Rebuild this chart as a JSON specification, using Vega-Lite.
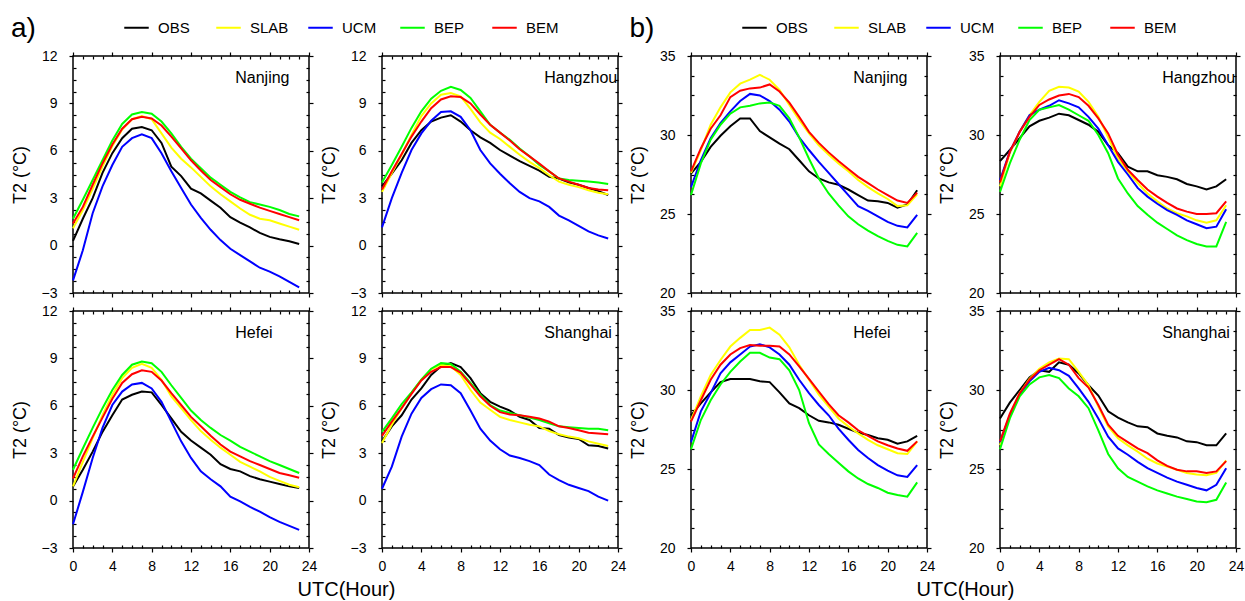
{
"$schema":"https://vega.github.io/schema/vega-lite/v6.json",
"padding":{"left":10,"top":13,"right":0,"bottom":0},
"background":"white",
"datasets":{
"a":[
{"c":"Nanjing","m":"OBS","h":0,"t":0.3},{"c":"Nanjing","m":"OBS","h":1,"t":1.7},{"c":"Nanjing","m":"OBS","h":2,"t":3.0},{"c":"Nanjing","m":"OBS","h":3,"t":4.6},{"c":"Nanjing","m":"OBS","h":4,"t":5.85},{"c":"Nanjing","m":"OBS","h":5,"t":6.8},{"c":"Nanjing","m":"OBS","h":6,"t":7.4},{"c":"Nanjing","m":"OBS","h":7,"t":7.5},{"c":"Nanjing","m":"OBS","h":8,"t":7.3},{"c":"Nanjing","m":"OBS","h":9,"t":6.5},{"c":"Nanjing","m":"OBS","h":10,"t":5.0},{"c":"Nanjing","m":"OBS","h":11,"t":4.4},{"c":"Nanjing","m":"OBS","h":12,"t":3.6},{"c":"Nanjing","m":"OBS","h":13,"t":3.3},{"c":"Nanjing","m":"OBS","h":14,"t":2.85},{"c":"Nanjing","m":"OBS","h":15,"t":2.4},{"c":"Nanjing","m":"OBS","h":16,"t":1.8},{"c":"Nanjing","m":"OBS","h":17,"t":1.45},{"c":"Nanjing","m":"OBS","h":18,"t":1.15},{"c":"Nanjing","m":"OBS","h":19,"t":0.8},{"c":"Nanjing","m":"OBS","h":20,"t":0.55},{"c":"Nanjing","m":"OBS","h":21,"t":0.4},{"c":"Nanjing","m":"OBS","h":22,"t":0.27},{"c":"Nanjing","m":"OBS","h":23,"t":0.1},
{"c":"Nanjing","m":"SLAB","h":0,"t":1.1},{"c":"Nanjing","m":"SLAB","h":1,"t":2.25},{"c":"Nanjing","m":"SLAB","h":2,"t":3.6},{"c":"Nanjing","m":"SLAB","h":3,"t":5.0},{"c":"Nanjing","m":"SLAB","h":4,"t":6.3},{"c":"Nanjing","m":"SLAB","h":5,"t":7.35},{"c":"Nanjing","m":"SLAB","h":6,"t":8.0},{"c":"Nanjing","m":"SLAB","h":7,"t":8.2},{"c":"Nanjing","m":"SLAB","h":8,"t":8.0},{"c":"Nanjing","m":"SLAB","h":9,"t":7.1},{"c":"Nanjing","m":"SLAB","h":10,"t":6.2},{"c":"Nanjing","m":"SLAB","h":11,"t":5.5},{"c":"Nanjing","m":"SLAB","h":12,"t":4.95},{"c":"Nanjing","m":"SLAB","h":13,"t":4.35},{"c":"Nanjing","m":"SLAB","h":14,"t":3.75},{"c":"Nanjing","m":"SLAB","h":15,"t":3.25},{"c":"Nanjing","m":"SLAB","h":16,"t":2.8},{"c":"Nanjing","m":"SLAB","h":17,"t":2.35},{"c":"Nanjing","m":"SLAB","h":18,"t":1.95},{"c":"Nanjing","m":"SLAB","h":19,"t":1.7},{"c":"Nanjing","m":"SLAB","h":20,"t":1.6},{"c":"Nanjing","m":"SLAB","h":21,"t":1.4},{"c":"Nanjing","m":"SLAB","h":22,"t":1.2},{"c":"Nanjing","m":"SLAB","h":23,"t":1.0},
{"c":"Nanjing","m":"UCM","h":0,"t":-2.2},{"c":"Nanjing","m":"UCM","h":1,"t":-0.3},{"c":"Nanjing","m":"UCM","h":2,"t":2.05},{"c":"Nanjing","m":"UCM","h":3,"t":3.75},{"c":"Nanjing","m":"UCM","h":4,"t":5.1},{"c":"Nanjing","m":"UCM","h":5,"t":6.25},{"c":"Nanjing","m":"UCM","h":6,"t":6.8},{"c":"Nanjing","m":"UCM","h":7,"t":7.05},{"c":"Nanjing","m":"UCM","h":8,"t":6.8},{"c":"Nanjing","m":"UCM","h":9,"t":5.85},{"c":"Nanjing","m":"UCM","h":10,"t":4.7},{"c":"Nanjing","m":"UCM","h":11,"t":3.65},{"c":"Nanjing","m":"UCM","h":12,"t":2.6},{"c":"Nanjing","m":"UCM","h":13,"t":1.75},{"c":"Nanjing","m":"UCM","h":14,"t":1.0},{"c":"Nanjing","m":"UCM","h":15,"t":0.35},{"c":"Nanjing","m":"UCM","h":16,"t":-0.2},{"c":"Nanjing","m":"UCM","h":17,"t":-0.6},{"c":"Nanjing","m":"UCM","h":18,"t":-1.0},{"c":"Nanjing","m":"UCM","h":19,"t":-1.4},{"c":"Nanjing","m":"UCM","h":20,"t":-1.65},{"c":"Nanjing","m":"UCM","h":21,"t":-1.95},{"c":"Nanjing","m":"UCM","h":22,"t":-2.3},{"c":"Nanjing","m":"UCM","h":23,"t":-2.65},
{"c":"Nanjing","m":"BEP","h":0,"t":1.7},{"c":"Nanjing","m":"BEP","h":1,"t":2.9},{"c":"Nanjing","m":"BEP","h":2,"t":4.15},{"c":"Nanjing","m":"BEP","h":3,"t":5.4},{"c":"Nanjing","m":"BEP","h":4,"t":6.65},{"c":"Nanjing","m":"BEP","h":5,"t":7.7},{"c":"Nanjing","m":"BEP","h":6,"t":8.3},{"c":"Nanjing","m":"BEP","h":7,"t":8.45},{"c":"Nanjing","m":"BEP","h":8,"t":8.35},{"c":"Nanjing","m":"BEP","h":9,"t":7.85},{"c":"Nanjing","m":"BEP","h":10,"t":7.1},{"c":"Nanjing","m":"BEP","h":11,"t":6.25},{"c":"Nanjing","m":"BEP","h":12,"t":5.5},{"c":"Nanjing","m":"BEP","h":13,"t":4.9},{"c":"Nanjing","m":"BEP","h":14,"t":4.3},{"c":"Nanjing","m":"BEP","h":15,"t":3.85},{"c":"Nanjing","m":"BEP","h":16,"t":3.4},{"c":"Nanjing","m":"BEP","h":17,"t":3.05},{"c":"Nanjing","m":"BEP","h":18,"t":2.75},{"c":"Nanjing","m":"BEP","h":19,"t":2.6},{"c":"Nanjing","m":"BEP","h":20,"t":2.45},{"c":"Nanjing","m":"BEP","h":21,"t":2.25},{"c":"Nanjing","m":"BEP","h":22,"t":2.0},{"c":"Nanjing","m":"BEP","h":23,"t":1.85},
{"c":"Nanjing","m":"BEM","h":0,"t":1.4},{"c":"Nanjing","m":"BEM","h":1,"t":2.45},{"c":"Nanjing","m":"BEM","h":2,"t":3.85},{"c":"Nanjing","m":"BEM","h":3,"t":5.2},{"c":"Nanjing","m":"BEM","h":4,"t":6.4},{"c":"Nanjing","m":"BEM","h":5,"t":7.4},{"c":"Nanjing","m":"BEM","h":6,"t":8.0},{"c":"Nanjing","m":"BEM","h":7,"t":8.15},{"c":"Nanjing","m":"BEM","h":8,"t":8.05},{"c":"Nanjing","m":"BEM","h":9,"t":7.6},{"c":"Nanjing","m":"BEM","h":10,"t":6.9},{"c":"Nanjing","m":"BEM","h":11,"t":6.15},{"c":"Nanjing","m":"BEM","h":12,"t":5.4},{"c":"Nanjing","m":"BEM","h":13,"t":4.75},{"c":"Nanjing","m":"BEM","h":14,"t":4.15},{"c":"Nanjing","m":"BEM","h":15,"t":3.7},{"c":"Nanjing","m":"BEM","h":16,"t":3.25},{"c":"Nanjing","m":"BEM","h":17,"t":2.9},{"c":"Nanjing","m":"BEM","h":18,"t":2.65},{"c":"Nanjing","m":"BEM","h":19,"t":2.4},{"c":"Nanjing","m":"BEM","h":20,"t":2.2},{"c":"Nanjing","m":"BEM","h":21,"t":2.0},{"c":"Nanjing","m":"BEM","h":22,"t":1.8},{"c":"Nanjing","m":"BEM","h":23,"t":1.6},
{"c":"Hangzhou","m":"OBS","h":0,"t":3.75},{"c":"Hangzhou","m":"OBS","h":1,"t":4.55},{"c":"Hangzhou","m":"OBS","h":2,"t":5.4},{"c":"Hangzhou","m":"OBS","h":3,"t":6.5},{"c":"Hangzhou","m":"OBS","h":4,"t":7.3},{"c":"Hangzhou","m":"OBS","h":5,"t":7.85},{"c":"Hangzhou","m":"OBS","h":6,"t":8.1},{"c":"Hangzhou","m":"OBS","h":7,"t":8.25},{"c":"Hangzhou","m":"OBS","h":8,"t":7.85},{"c":"Hangzhou","m":"OBS","h":9,"t":7.3},{"c":"Hangzhou","m":"OBS","h":10,"t":6.85},{"c":"Hangzhou","m":"OBS","h":11,"t":6.5},{"c":"Hangzhou","m":"OBS","h":12,"t":6.05},{"c":"Hangzhou","m":"OBS","h":13,"t":5.7},{"c":"Hangzhou","m":"OBS","h":14,"t":5.35},{"c":"Hangzhou","m":"OBS","h":15,"t":5.05},{"c":"Hangzhou","m":"OBS","h":16,"t":4.75},{"c":"Hangzhou","m":"OBS","h":17,"t":4.35},{"c":"Hangzhou","m":"OBS","h":18,"t":4.25},{"c":"Hangzhou","m":"OBS","h":19,"t":4.0},{"c":"Hangzhou","m":"OBS","h":20,"t":3.85},{"c":"Hangzhou","m":"OBS","h":21,"t":3.65},{"c":"Hangzhou","m":"OBS","h":22,"t":3.45},{"c":"Hangzhou","m":"OBS","h":23,"t":3.2},
{"c":"Hangzhou","m":"SLAB","h":0,"t":3.4},{"c":"Hangzhou","m":"SLAB","h":1,"t":4.6},{"c":"Hangzhou","m":"SLAB","h":2,"t":5.75},{"c":"Hangzhou","m":"SLAB","h":3,"t":7.0},{"c":"Hangzhou","m":"SLAB","h":4,"t":8.2},{"c":"Hangzhou","m":"SLAB","h":5,"t":9.0},{"c":"Hangzhou","m":"SLAB","h":6,"t":9.55},{"c":"Hangzhou","m":"SLAB","h":7,"t":9.65},{"c":"Hangzhou","m":"SLAB","h":8,"t":9.45},{"c":"Hangzhou","m":"SLAB","h":9,"t":8.65},{"c":"Hangzhou","m":"SLAB","h":10,"t":7.8},{"c":"Hangzhou","m":"SLAB","h":11,"t":7.15},{"c":"Hangzhou","m":"SLAB","h":12,"t":6.75},{"c":"Hangzhou","m":"SLAB","h":13,"t":6.25},{"c":"Hangzhou","m":"SLAB","h":14,"t":5.75},{"c":"Hangzhou","m":"SLAB","h":15,"t":5.3},{"c":"Hangzhou","m":"SLAB","h":16,"t":4.9},{"c":"Hangzhou","m":"SLAB","h":17,"t":4.45},{"c":"Hangzhou","m":"SLAB","h":18,"t":4.05},{"c":"Hangzhou","m":"SLAB","h":19,"t":3.85},{"c":"Hangzhou","m":"SLAB","h":20,"t":3.7},{"c":"Hangzhou","m":"SLAB","h":21,"t":3.5},{"c":"Hangzhou","m":"SLAB","h":22,"t":3.35},{"c":"Hangzhou","m":"SLAB","h":23,"t":3.25},
{"c":"Hangzhou","m":"UCM","h":0,"t":1.15},{"c":"Hangzhou","m":"UCM","h":1,"t":3.0},{"c":"Hangzhou","m":"UCM","h":2,"t":4.6},{"c":"Hangzhou","m":"UCM","h":3,"t":6.05},{"c":"Hangzhou","m":"UCM","h":4,"t":7.1},{"c":"Hangzhou","m":"UCM","h":5,"t":7.9},{"c":"Hangzhou","m":"UCM","h":6,"t":8.45},{"c":"Hangzhou","m":"UCM","h":7,"t":8.5},{"c":"Hangzhou","m":"UCM","h":8,"t":8.15},{"c":"Hangzhou","m":"UCM","h":9,"t":7.3},{"c":"Hangzhou","m":"UCM","h":10,"t":6.05},{"c":"Hangzhou","m":"UCM","h":11,"t":5.2},{"c":"Hangzhou","m":"UCM","h":12,"t":4.55},{"c":"Hangzhou","m":"UCM","h":13,"t":3.95},{"c":"Hangzhou","m":"UCM","h":14,"t":3.4},{"c":"Hangzhou","m":"UCM","h":15,"t":3.0},{"c":"Hangzhou","m":"UCM","h":16,"t":2.8},{"c":"Hangzhou","m":"UCM","h":17,"t":2.45},{"c":"Hangzhou","m":"UCM","h":18,"t":1.9},{"c":"Hangzhou","m":"UCM","h":19,"t":1.6},{"c":"Hangzhou","m":"UCM","h":20,"t":1.25},{"c":"Hangzhou","m":"UCM","h":21,"t":0.9},{"c":"Hangzhou","m":"UCM","h":22,"t":0.65},{"c":"Hangzhou","m":"UCM","h":23,"t":0.45},
{"c":"Hangzhou","m":"BEP","h":0,"t":4.0},{"c":"Hangzhou","m":"BEP","h":1,"t":5.1},{"c":"Hangzhou","m":"BEP","h":2,"t":6.25},{"c":"Hangzhou","m":"BEP","h":3,"t":7.45},{"c":"Hangzhou","m":"BEP","h":4,"t":8.5},{"c":"Hangzhou","m":"BEP","h":5,"t":9.3},{"c":"Hangzhou","m":"BEP","h":6,"t":9.8},{"c":"Hangzhou","m":"BEP","h":7,"t":10.05},{"c":"Hangzhou","m":"BEP","h":8,"t":9.85},{"c":"Hangzhou","m":"BEP","h":9,"t":9.35},{"c":"Hangzhou","m":"BEP","h":10,"t":8.5},{"c":"Hangzhou","m":"BEP","h":11,"t":7.65},{"c":"Hangzhou","m":"BEP","h":12,"t":7.15},{"c":"Hangzhou","m":"BEP","h":13,"t":6.7},{"c":"Hangzhou","m":"BEP","h":14,"t":6.15},{"c":"Hangzhou","m":"BEP","h":15,"t":5.65},{"c":"Hangzhou","m":"BEP","h":16,"t":5.1},{"c":"Hangzhou","m":"BEP","h":17,"t":4.7},{"c":"Hangzhou","m":"BEP","h":18,"t":4.25},{"c":"Hangzhou","m":"BEP","h":19,"t":4.15},{"c":"Hangzhou","m":"BEP","h":20,"t":4.1},{"c":"Hangzhou","m":"BEP","h":21,"t":4.05},{"c":"Hangzhou","m":"BEP","h":22,"t":4.0},{"c":"Hangzhou","m":"BEP","h":23,"t":3.9},
{"c":"Hangzhou","m":"BEM","h":0,"t":3.55},{"c":"Hangzhou","m":"BEM","h":1,"t":4.7},{"c":"Hangzhou","m":"BEM","h":2,"t":5.8},{"c":"Hangzhou","m":"BEM","h":3,"t":6.9},{"c":"Hangzhou","m":"BEM","h":4,"t":7.85},{"c":"Hangzhou","m":"BEM","h":5,"t":8.7},{"c":"Hangzhou","m":"BEM","h":6,"t":9.25},{"c":"Hangzhou","m":"BEM","h":7,"t":9.45},{"c":"Hangzhou","m":"BEM","h":8,"t":9.4},{"c":"Hangzhou","m":"BEM","h":9,"t":9.0},{"c":"Hangzhou","m":"BEM","h":10,"t":8.3},{"c":"Hangzhou","m":"BEM","h":11,"t":7.65},{"c":"Hangzhou","m":"BEM","h":12,"t":7.15},{"c":"Hangzhou","m":"BEM","h":13,"t":6.65},{"c":"Hangzhou","m":"BEM","h":14,"t":6.1},{"c":"Hangzhou","m":"BEM","h":15,"t":5.65},{"c":"Hangzhou","m":"BEM","h":16,"t":5.2},{"c":"Hangzhou","m":"BEM","h":17,"t":4.7},{"c":"Hangzhou","m":"BEM","h":18,"t":4.25},{"c":"Hangzhou","m":"BEM","h":19,"t":4.05},{"c":"Hangzhou","m":"BEM","h":20,"t":3.85},{"c":"Hangzhou","m":"BEM","h":21,"t":3.65},{"c":"Hangzhou","m":"BEM","h":22,"t":3.55},{"c":"Hangzhou","m":"BEM","h":23,"t":3.5},
{"c":"Hefei","m":"OBS","h":0,"t":0.9},{"c":"Hefei","m":"OBS","h":1,"t":1.95},{"c":"Hefei","m":"OBS","h":2,"t":3.1},{"c":"Hefei","m":"OBS","h":3,"t":4.35},{"c":"Hefei","m":"OBS","h":4,"t":5.4},{"c":"Hefei","m":"OBS","h":5,"t":6.4},{"c":"Hefei","m":"OBS","h":6,"t":6.7},{"c":"Hefei","m":"OBS","h":7,"t":6.9},{"c":"Hefei","m":"OBS","h":8,"t":6.85},{"c":"Hefei","m":"OBS","h":9,"t":6.05},{"c":"Hefei","m":"OBS","h":10,"t":5.2},{"c":"Hefei","m":"OBS","h":11,"t":4.35},{"c":"Hefei","m":"OBS","h":12,"t":3.8},{"c":"Hefei","m":"OBS","h":13,"t":3.35},{"c":"Hefei","m":"OBS","h":14,"t":2.9},{"c":"Hefei","m":"OBS","h":15,"t":2.3},{"c":"Hefei","m":"OBS","h":16,"t":2.0},{"c":"Hefei","m":"OBS","h":17,"t":1.85},{"c":"Hefei","m":"OBS","h":18,"t":1.55},{"c":"Hefei","m":"OBS","h":19,"t":1.35},{"c":"Hefei","m":"OBS","h":20,"t":1.2},{"c":"Hefei","m":"OBS","h":21,"t":1.05},{"c":"Hefei","m":"OBS","h":22,"t":0.9},{"c":"Hefei","m":"OBS","h":23,"t":0.8},
{"c":"Hefei","m":"SLAB","h":0,"t":0.9},{"c":"Hefei","m":"SLAB","h":1,"t":2.45},{"c":"Hefei","m":"SLAB","h":2,"t":3.95},{"c":"Hefei","m":"SLAB","h":3,"t":5.4},{"c":"Hefei","m":"SLAB","h":4,"t":6.7},{"c":"Hefei","m":"SLAB","h":5,"t":7.75},{"c":"Hefei","m":"SLAB","h":6,"t":8.4},{"c":"Hefei","m":"SLAB","h":7,"t":8.65},{"c":"Hefei","m":"SLAB","h":8,"t":8.4},{"c":"Hefei","m":"SLAB","h":9,"t":7.65},{"c":"Hefei","m":"SLAB","h":10,"t":6.6},{"c":"Hefei","m":"SLAB","h":11,"t":5.85},{"c":"Hefei","m":"SLAB","h":12,"t":5.1},{"c":"Hefei","m":"SLAB","h":13,"t":4.4},{"c":"Hefei","m":"SLAB","h":14,"t":3.85},{"c":"Hefei","m":"SLAB","h":15,"t":3.35},{"c":"Hefei","m":"SLAB","h":16,"t":2.9},{"c":"Hefei","m":"SLAB","h":17,"t":2.45},{"c":"Hefei","m":"SLAB","h":18,"t":2.15},{"c":"Hefei","m":"SLAB","h":19,"t":1.85},{"c":"Hefei","m":"SLAB","h":20,"t":1.5},{"c":"Hefei","m":"SLAB","h":21,"t":1.25},{"c":"Hefei","m":"SLAB","h":22,"t":1.0},{"c":"Hefei","m":"SLAB","h":23,"t":0.85},
{"c":"Hefei","m":"UCM","h":0,"t":-1.5},{"c":"Hefei","m":"UCM","h":1,"t":0.55},{"c":"Hefei","m":"UCM","h":2,"t":2.7},{"c":"Hefei","m":"UCM","h":3,"t":4.6},{"c":"Hefei","m":"UCM","h":4,"t":6.05},{"c":"Hefei","m":"UCM","h":5,"t":6.9},{"c":"Hefei","m":"UCM","h":6,"t":7.35},{"c":"Hefei","m":"UCM","h":7,"t":7.45},{"c":"Hefei","m":"UCM","h":8,"t":7.1},{"c":"Hefei","m":"UCM","h":9,"t":6.25},{"c":"Hefei","m":"UCM","h":10,"t":5.0},{"c":"Hefei","m":"UCM","h":11,"t":3.75},{"c":"Hefei","m":"UCM","h":12,"t":2.7},{"c":"Hefei","m":"UCM","h":13,"t":1.85},{"c":"Hefei","m":"UCM","h":14,"t":1.35},{"c":"Hefei","m":"UCM","h":15,"t":0.9},{"c":"Hefei","m":"UCM","h":16,"t":0.25},{"c":"Hefei","m":"UCM","h":17,"t":-0.05},{"c":"Hefei","m":"UCM","h":18,"t":-0.4},{"c":"Hefei","m":"UCM","h":19,"t":-0.7},{"c":"Hefei","m":"UCM","h":20,"t":-1.05},{"c":"Hefei","m":"UCM","h":21,"t":-1.35},{"c":"Hefei","m":"UCM","h":22,"t":-1.6},{"c":"Hefei","m":"UCM","h":23,"t":-1.85},
{"c":"Hefei","m":"BEP","h":0,"t":1.95},{"c":"Hefei","m":"BEP","h":1,"t":3.3},{"c":"Hefei","m":"BEP","h":2,"t":4.6},{"c":"Hefei","m":"BEP","h":3,"t":5.85},{"c":"Hefei","m":"BEP","h":4,"t":7.0},{"c":"Hefei","m":"BEP","h":5,"t":7.95},{"c":"Hefei","m":"BEP","h":6,"t":8.6},{"c":"Hefei","m":"BEP","h":7,"t":8.8},{"c":"Hefei","m":"BEP","h":8,"t":8.7},{"c":"Hefei","m":"BEP","h":9,"t":8.15},{"c":"Hefei","m":"BEP","h":10,"t":7.3},{"c":"Hefei","m":"BEP","h":11,"t":6.5},{"c":"Hefei","m":"BEP","h":12,"t":5.7},{"c":"Hefei","m":"BEP","h":13,"t":5.1},{"c":"Hefei","m":"BEP","h":14,"t":4.6},{"c":"Hefei","m":"BEP","h":15,"t":4.15},{"c":"Hefei","m":"BEP","h":16,"t":3.8},{"c":"Hefei","m":"BEP","h":17,"t":3.4},{"c":"Hefei","m":"BEP","h":18,"t":3.1},{"c":"Hefei","m":"BEP","h":19,"t":2.8},{"c":"Hefei","m":"BEP","h":20,"t":2.5},{"c":"Hefei","m":"BEP","h":21,"t":2.25},{"c":"Hefei","m":"BEP","h":22,"t":2.0},{"c":"Hefei","m":"BEP","h":23,"t":1.75},
{"c":"Hefei","m":"BEM","h":0,"t":1.4},{"c":"Hefei","m":"BEM","h":1,"t":2.8},{"c":"Hefei","m":"BEM","h":2,"t":4.05},{"c":"Hefei","m":"BEM","h":3,"t":5.25},{"c":"Hefei","m":"BEM","h":4,"t":6.45},{"c":"Hefei","m":"BEM","h":5,"t":7.45},{"c":"Hefei","m":"BEM","h":6,"t":8.0},{"c":"Hefei","m":"BEM","h":7,"t":8.25},{"c":"Hefei","m":"BEM","h":8,"t":8.15},{"c":"Hefei","m":"BEM","h":9,"t":7.6},{"c":"Hefei","m":"BEM","h":10,"t":6.8},{"c":"Hefei","m":"BEM","h":11,"t":6.05},{"c":"Hefei","m":"BEM","h":12,"t":5.3},{"c":"Hefei","m":"BEM","h":13,"t":4.7},{"c":"Hefei","m":"BEM","h":14,"t":4.1},{"c":"Hefei","m":"BEM","h":15,"t":3.55},{"c":"Hefei","m":"BEM","h":16,"t":3.1},{"c":"Hefei","m":"BEM","h":17,"t":2.8},{"c":"Hefei","m":"BEM","h":18,"t":2.5},{"c":"Hefei","m":"BEM","h":19,"t":2.25},{"c":"Hefei","m":"BEM","h":20,"t":2.0},{"c":"Hefei","m":"BEM","h":21,"t":1.75},{"c":"Hefei","m":"BEM","h":22,"t":1.6},{"c":"Hefei","m":"BEM","h":23,"t":1.45},
{"c":"Shanghai","m":"OBS","h":0,"t":3.75},{"c":"Shanghai","m":"OBS","h":1,"t":4.7},{"c":"Shanghai","m":"OBS","h":2,"t":5.4},{"c":"Shanghai","m":"OBS","h":3,"t":6.4},{"c":"Shanghai","m":"OBS","h":4,"t":7.1},{"c":"Shanghai","m":"OBS","h":5,"t":7.95},{"c":"Shanghai","m":"OBS","h":6,"t":8.5},{"c":"Shanghai","m":"OBS","h":7,"t":8.7},{"c":"Shanghai","m":"OBS","h":8,"t":8.45},{"c":"Shanghai","m":"OBS","h":9,"t":7.75},{"c":"Shanghai","m":"OBS","h":10,"t":6.8},{"c":"Shanghai","m":"OBS","h":11,"t":6.25},{"c":"Shanghai","m":"OBS","h":12,"t":5.95},{"c":"Shanghai","m":"OBS","h":13,"t":5.7},{"c":"Shanghai","m":"OBS","h":14,"t":5.3},{"c":"Shanghai","m":"OBS","h":15,"t":5.1},{"c":"Shanghai","m":"OBS","h":16,"t":4.6},{"c":"Shanghai","m":"OBS","h":17,"t":4.55},{"c":"Shanghai","m":"OBS","h":18,"t":4.15},{"c":"Shanghai","m":"OBS","h":19,"t":4.0},{"c":"Shanghai","m":"OBS","h":20,"t":3.9},{"c":"Shanghai","m":"OBS","h":21,"t":3.5},{"c":"Shanghai","m":"OBS","h":22,"t":3.45},{"c":"Shanghai","m":"OBS","h":23,"t":3.3},
{"c":"Shanghai","m":"SLAB","h":0,"t":3.65},{"c":"Shanghai","m":"SLAB","h":1,"t":4.8},{"c":"Shanghai","m":"SLAB","h":2,"t":5.85},{"c":"Shanghai","m":"SLAB","h":3,"t":6.8},{"c":"Shanghai","m":"SLAB","h":4,"t":7.65},{"c":"Shanghai","m":"SLAB","h":5,"t":8.3},{"c":"Shanghai","m":"SLAB","h":6,"t":8.6},{"c":"Shanghai","m":"SLAB","h":7,"t":8.5},{"c":"Shanghai","m":"SLAB","h":8,"t":7.95},{"c":"Shanghai","m":"SLAB","h":9,"t":7.0},{"c":"Shanghai","m":"SLAB","h":10,"t":6.2},{"c":"Shanghai","m":"SLAB","h":11,"t":5.75},{"c":"Shanghai","m":"SLAB","h":12,"t":5.3},{"c":"Shanghai","m":"SLAB","h":13,"t":5.1},{"c":"Shanghai","m":"SLAB","h":14,"t":4.95},{"c":"Shanghai","m":"SLAB","h":15,"t":4.8},{"c":"Shanghai","m":"SLAB","h":16,"t":4.7},{"c":"Shanghai","m":"SLAB","h":17,"t":4.4},{"c":"Shanghai","m":"SLAB","h":18,"t":4.2},{"c":"Shanghai","m":"SLAB","h":19,"t":4.05},{"c":"Shanghai","m":"SLAB","h":20,"t":3.95},{"c":"Shanghai","m":"SLAB","h":21,"t":3.75},{"c":"Shanghai","m":"SLAB","h":22,"t":3.6},{"c":"Shanghai","m":"SLAB","h":23,"t":3.45},
{"c":"Shanghai","m":"UCM","h":0,"t":0.75},{"c":"Shanghai","m":"UCM","h":1,"t":2.15},{"c":"Shanghai","m":"UCM","h":2,"t":4.05},{"c":"Shanghai","m":"UCM","h":3,"t":5.5},{"c":"Shanghai","m":"UCM","h":4,"t":6.5},{"c":"Shanghai","m":"UCM","h":5,"t":7.05},{"c":"Shanghai","m":"UCM","h":6,"t":7.35},{"c":"Shanghai","m":"UCM","h":7,"t":7.3},{"c":"Shanghai","m":"UCM","h":8,"t":6.8},{"c":"Shanghai","m":"UCM","h":9,"t":5.7},{"c":"Shanghai","m":"UCM","h":10,"t":4.55},{"c":"Shanghai","m":"UCM","h":11,"t":3.8},{"c":"Shanghai","m":"UCM","h":12,"t":3.25},{"c":"Shanghai","m":"UCM","h":13,"t":2.85},{"c":"Shanghai","m":"UCM","h":14,"t":2.7},{"c":"Shanghai","m":"UCM","h":15,"t":2.5},{"c":"Shanghai","m":"UCM","h":16,"t":2.25},{"c":"Shanghai","m":"UCM","h":17,"t":1.65},{"c":"Shanghai","m":"UCM","h":18,"t":1.3},{"c":"Shanghai","m":"UCM","h":19,"t":1.0},{"c":"Shanghai","m":"UCM","h":20,"t":0.8},{"c":"Shanghai","m":"UCM","h":21,"t":0.6},{"c":"Shanghai","m":"UCM","h":22,"t":0.25},{"c":"Shanghai","m":"UCM","h":23,"t":0.0},
{"c":"Shanghai","m":"BEP","h":0,"t":4.35},{"c":"Shanghai","m":"BEP","h":1,"t":5.2},{"c":"Shanghai","m":"BEP","h":2,"t":6.1},{"c":"Shanghai","m":"BEP","h":3,"t":6.85},{"c":"Shanghai","m":"BEP","h":4,"t":7.65},{"c":"Shanghai","m":"BEP","h":5,"t":8.35},{"c":"Shanghai","m":"BEP","h":6,"t":8.7},{"c":"Shanghai","m":"BEP","h":7,"t":8.65},{"c":"Shanghai","m":"BEP","h":8,"t":8.15},{"c":"Shanghai","m":"BEP","h":9,"t":7.45},{"c":"Shanghai","m":"BEP","h":10,"t":6.7},{"c":"Shanghai","m":"BEP","h":11,"t":6.05},{"c":"Shanghai","m":"BEP","h":12,"t":5.7},{"c":"Shanghai","m":"BEP","h":13,"t":5.55},{"c":"Shanghai","m":"BEP","h":14,"t":5.4},{"c":"Shanghai","m":"BEP","h":15,"t":5.25},{"c":"Shanghai","m":"BEP","h":16,"t":5.1},{"c":"Shanghai","m":"BEP","h":17,"t":4.9},{"c":"Shanghai","m":"BEP","h":18,"t":4.7},{"c":"Shanghai","m":"BEP","h":19,"t":4.65},{"c":"Shanghai","m":"BEP","h":20,"t":4.6},{"c":"Shanghai","m":"BEP","h":21,"t":4.55},{"c":"Shanghai","m":"BEP","h":22,"t":4.55},{"c":"Shanghai","m":"BEP","h":23,"t":4.45},
{"c":"Shanghai","m":"BEM","h":0,"t":4.1},{"c":"Shanghai","m":"BEM","h":1,"t":5.0},{"c":"Shanghai","m":"BEM","h":2,"t":5.85},{"c":"Shanghai","m":"BEM","h":3,"t":6.75},{"c":"Shanghai","m":"BEM","h":4,"t":7.6},{"c":"Shanghai","m":"BEM","h":5,"t":8.15},{"c":"Shanghai","m":"BEM","h":6,"t":8.45},{"c":"Shanghai","m":"BEM","h":7,"t":8.45},{"c":"Shanghai","m":"BEM","h":8,"t":8.1},{"c":"Shanghai","m":"BEM","h":9,"t":7.35},{"c":"Shanghai","m":"BEM","h":10,"t":6.6},{"c":"Shanghai","m":"BEM","h":11,"t":6.0},{"c":"Shanghai","m":"BEM","h":12,"t":5.6},{"c":"Shanghai","m":"BEM","h":13,"t":5.45},{"c":"Shanghai","m":"BEM","h":14,"t":5.4},{"c":"Shanghai","m":"BEM","h":15,"t":5.3},{"c":"Shanghai","m":"BEM","h":16,"t":5.2},{"c":"Shanghai","m":"BEM","h":17,"t":5.0},{"c":"Shanghai","m":"BEM","h":18,"t":4.7},{"c":"Shanghai","m":"BEM","h":19,"t":4.6},{"c":"Shanghai","m":"BEM","h":20,"t":4.45},{"c":"Shanghai","m":"BEM","h":21,"t":4.3},{"c":"Shanghai","m":"BEM","h":22,"t":4.25},{"c":"Shanghai","m":"BEM","h":23,"t":4.2}
],
"b":[
{"c":"Nanjing","m":"OBS","h":0,"t":27.55},{"c":"Nanjing","m":"OBS","h":1,"t":28.3},{"c":"Nanjing","m":"OBS","h":2,"t":29.25},{"c":"Nanjing","m":"OBS","h":3,"t":29.95},{"c":"Nanjing","m":"OBS","h":4,"t":30.55},{"c":"Nanjing","m":"OBS","h":5,"t":31.05},{"c":"Nanjing","m":"OBS","h":6,"t":31.05},{"c":"Nanjing","m":"OBS","h":7,"t":30.25},{"c":"Nanjing","m":"OBS","h":8,"t":29.85},{"c":"Nanjing","m":"OBS","h":9,"t":29.45},{"c":"Nanjing","m":"OBS","h":10,"t":29.1},{"c":"Nanjing","m":"OBS","h":11,"t":28.4},{"c":"Nanjing","m":"OBS","h":12,"t":27.7},{"c":"Nanjing","m":"OBS","h":13,"t":27.25},{"c":"Nanjing","m":"OBS","h":14,"t":27.0},{"c":"Nanjing","m":"OBS","h":15,"t":26.85},{"c":"Nanjing","m":"OBS","h":16,"t":26.55},{"c":"Nanjing","m":"OBS","h":17,"t":26.2},{"c":"Nanjing","m":"OBS","h":18,"t":25.85},{"c":"Nanjing","m":"OBS","h":19,"t":25.8},{"c":"Nanjing","m":"OBS","h":20,"t":25.7},{"c":"Nanjing","m":"OBS","h":21,"t":25.4},{"c":"Nanjing","m":"OBS","h":22,"t":25.6},{"c":"Nanjing","m":"OBS","h":23,"t":26.5},
{"c":"Nanjing","m":"SLAB","h":0,"t":27.6},{"c":"Nanjing","m":"SLAB","h":1,"t":29.05},{"c":"Nanjing","m":"SLAB","h":2,"t":30.65},{"c":"Nanjing","m":"SLAB","h":3,"t":31.75},{"c":"Nanjing","m":"SLAB","h":4,"t":32.7},{"c":"Nanjing","m":"SLAB","h":5,"t":33.25},{"c":"Nanjing","m":"SLAB","h":6,"t":33.5},{"c":"Nanjing","m":"SLAB","h":7,"t":33.8},{"c":"Nanjing","m":"SLAB","h":8,"t":33.5},{"c":"Nanjing","m":"SLAB","h":9,"t":32.85},{"c":"Nanjing","m":"SLAB","h":10,"t":31.9},{"c":"Nanjing","m":"SLAB","h":11,"t":30.95},{"c":"Nanjing","m":"SLAB","h":12,"t":30.1},{"c":"Nanjing","m":"SLAB","h":13,"t":29.35},{"c":"Nanjing","m":"SLAB","h":14,"t":28.75},{"c":"Nanjing","m":"SLAB","h":15,"t":28.2},{"c":"Nanjing","m":"SLAB","h":16,"t":27.7},{"c":"Nanjing","m":"SLAB","h":17,"t":27.15},{"c":"Nanjing","m":"SLAB","h":18,"t":26.7},{"c":"Nanjing","m":"SLAB","h":19,"t":26.3},{"c":"Nanjing","m":"SLAB","h":20,"t":25.95},{"c":"Nanjing","m":"SLAB","h":21,"t":25.5},{"c":"Nanjing","m":"SLAB","h":22,"t":25.55},{"c":"Nanjing","m":"SLAB","h":23,"t":26.25},
{"c":"Nanjing","m":"UCM","h":0,"t":26.7},{"c":"Nanjing","m":"UCM","h":1,"t":28.4},{"c":"Nanjing","m":"UCM","h":2,"t":29.8},{"c":"Nanjing","m":"UCM","h":3,"t":30.75},{"c":"Nanjing","m":"UCM","h":4,"t":31.5},{"c":"Nanjing","m":"UCM","h":5,"t":32.15},{"c":"Nanjing","m":"UCM","h":6,"t":32.6},{"c":"Nanjing","m":"UCM","h":7,"t":32.5},{"c":"Nanjing","m":"UCM","h":8,"t":32.15},{"c":"Nanjing","m":"UCM","h":9,"t":31.6},{"c":"Nanjing","m":"UCM","h":10,"t":30.85},{"c":"Nanjing","m":"UCM","h":11,"t":29.85},{"c":"Nanjing","m":"UCM","h":12,"t":29.05},{"c":"Nanjing","m":"UCM","h":13,"t":28.3},{"c":"Nanjing","m":"UCM","h":14,"t":27.6},{"c":"Nanjing","m":"UCM","h":15,"t":26.9},{"c":"Nanjing","m":"UCM","h":16,"t":26.2},{"c":"Nanjing","m":"UCM","h":17,"t":25.5},{"c":"Nanjing","m":"UCM","h":18,"t":25.2},{"c":"Nanjing","m":"UCM","h":19,"t":24.85},{"c":"Nanjing","m":"UCM","h":20,"t":24.5},{"c":"Nanjing","m":"UCM","h":21,"t":24.25},{"c":"Nanjing","m":"UCM","h":22,"t":24.15},{"c":"Nanjing","m":"UCM","h":23,"t":24.95},
{"c":"Nanjing","m":"BEP","h":0,"t":26.2},{"c":"Nanjing","m":"BEP","h":1,"t":28.2},{"c":"Nanjing","m":"BEP","h":2,"t":29.7},{"c":"Nanjing","m":"BEP","h":3,"t":30.65},{"c":"Nanjing","m":"BEP","h":4,"t":31.35},{"c":"Nanjing","m":"BEP","h":5,"t":31.75},{"c":"Nanjing","m":"BEP","h":6,"t":31.85},{"c":"Nanjing","m":"BEP","h":7,"t":32.0},{"c":"Nanjing","m":"BEP","h":8,"t":32.05},{"c":"Nanjing","m":"BEP","h":9,"t":31.85},{"c":"Nanjing","m":"BEP","h":10,"t":31.05},{"c":"Nanjing","m":"BEP","h":11,"t":29.85},{"c":"Nanjing","m":"BEP","h":12,"t":28.5},{"c":"Nanjing","m":"BEP","h":13,"t":27.25},{"c":"Nanjing","m":"BEP","h":14,"t":26.3},{"c":"Nanjing","m":"BEP","h":15,"t":25.55},{"c":"Nanjing","m":"BEP","h":16,"t":24.85},{"c":"Nanjing","m":"BEP","h":17,"t":24.35},{"c":"Nanjing","m":"BEP","h":18,"t":23.95},{"c":"Nanjing","m":"BEP","h":19,"t":23.6},{"c":"Nanjing","m":"BEP","h":20,"t":23.3},{"c":"Nanjing","m":"BEP","h":21,"t":23.05},{"c":"Nanjing","m":"BEP","h":22,"t":22.95},{"c":"Nanjing","m":"BEP","h":23,"t":23.8},
{"c":"Nanjing","m":"BEM","h":0,"t":27.7},{"c":"Nanjing","m":"BEM","h":1,"t":29.15},{"c":"Nanjing","m":"BEM","h":2,"t":30.4},{"c":"Nanjing","m":"BEM","h":3,"t":31.25},{"c":"Nanjing","m":"BEM","h":4,"t":32.4},{"c":"Nanjing","m":"BEM","h":5,"t":32.8},{"c":"Nanjing","m":"BEM","h":6,"t":32.95},{"c":"Nanjing","m":"BEM","h":7,"t":33.0},{"c":"Nanjing","m":"BEM","h":8,"t":33.2},{"c":"Nanjing","m":"BEM","h":9,"t":32.75},{"c":"Nanjing","m":"BEM","h":10,"t":32.05},{"c":"Nanjing","m":"BEM","h":11,"t":31.15},{"c":"Nanjing","m":"BEM","h":12,"t":30.2},{"c":"Nanjing","m":"BEM","h":13,"t":29.5},{"c":"Nanjing","m":"BEM","h":14,"t":28.9},{"c":"Nanjing","m":"BEM","h":15,"t":28.35},{"c":"Nanjing","m":"BEM","h":16,"t":27.85},{"c":"Nanjing","m":"BEM","h":17,"t":27.35},{"c":"Nanjing","m":"BEM","h":18,"t":26.95},{"c":"Nanjing","m":"BEM","h":19,"t":26.55},{"c":"Nanjing","m":"BEM","h":20,"t":26.2},{"c":"Nanjing","m":"BEM","h":21,"t":25.85},{"c":"Nanjing","m":"BEM","h":22,"t":25.7},{"c":"Nanjing","m":"BEM","h":23,"t":26.35},
{"c":"Hangzhou","m":"OBS","h":0,"t":28.35},{"c":"Hangzhou","m":"OBS","h":1,"t":29.05},{"c":"Hangzhou","m":"OBS","h":2,"t":29.8},{"c":"Hangzhou","m":"OBS","h":3,"t":30.55},{"c":"Hangzhou","m":"OBS","h":4,"t":30.9},{"c":"Hangzhou","m":"OBS","h":5,"t":31.1},{"c":"Hangzhou","m":"OBS","h":6,"t":31.35},{"c":"Hangzhou","m":"OBS","h":7,"t":31.25},{"c":"Hangzhou","m":"OBS","h":8,"t":30.95},{"c":"Hangzhou","m":"OBS","h":9,"t":30.65},{"c":"Hangzhou","m":"OBS","h":10,"t":30.2},{"c":"Hangzhou","m":"OBS","h":11,"t":29.35},{"c":"Hangzhou","m":"OBS","h":12,"t":28.85},{"c":"Hangzhou","m":"OBS","h":13,"t":28.0},{"c":"Hangzhou","m":"OBS","h":14,"t":27.7},{"c":"Hangzhou","m":"OBS","h":15,"t":27.7},{"c":"Hangzhou","m":"OBS","h":16,"t":27.45},{"c":"Hangzhou","m":"OBS","h":17,"t":27.35},{"c":"Hangzhou","m":"OBS","h":18,"t":27.2},{"c":"Hangzhou","m":"OBS","h":19,"t":26.9},{"c":"Hangzhou","m":"OBS","h":20,"t":26.75},{"c":"Hangzhou","m":"OBS","h":21,"t":26.55},{"c":"Hangzhou","m":"OBS","h":22,"t":26.75},{"c":"Hangzhou","m":"OBS","h":23,"t":27.2},
{"c":"Hangzhou","m":"SLAB","h":0,"t":26.75},{"c":"Hangzhou","m":"SLAB","h":1,"t":28.85},{"c":"Hangzhou","m":"SLAB","h":2,"t":30.2},{"c":"Hangzhou","m":"SLAB","h":3,"t":31.25},{"c":"Hangzhou","m":"SLAB","h":4,"t":32.1},{"c":"Hangzhou","m":"SLAB","h":5,"t":32.8},{"c":"Hangzhou","m":"SLAB","h":6,"t":33.05},{"c":"Hangzhou","m":"SLAB","h":7,"t":33.0},{"c":"Hangzhou","m":"SLAB","h":8,"t":32.75},{"c":"Hangzhou","m":"SLAB","h":9,"t":32.1},{"c":"Hangzhou","m":"SLAB","h":10,"t":31.15},{"c":"Hangzhou","m":"SLAB","h":11,"t":29.85},{"c":"Hangzhou","m":"SLAB","h":12,"t":28.5},{"c":"Hangzhou","m":"SLAB","h":13,"t":27.7},{"c":"Hangzhou","m":"SLAB","h":14,"t":26.95},{"c":"Hangzhou","m":"SLAB","h":15,"t":26.3},{"c":"Hangzhou","m":"SLAB","h":16,"t":25.8},{"c":"Hangzhou","m":"SLAB","h":17,"t":25.35},{"c":"Hangzhou","m":"SLAB","h":18,"t":25.05},{"c":"Hangzhou","m":"SLAB","h":19,"t":24.85},{"c":"Hangzhou","m":"SLAB","h":20,"t":24.6},{"c":"Hangzhou","m":"SLAB","h":21,"t":24.45},{"c":"Hangzhou","m":"SLAB","h":22,"t":24.6},{"c":"Hangzhou","m":"SLAB","h":23,"t":25.55},
{"c":"Hangzhou","m":"UCM","h":0,"t":27.15},{"c":"Hangzhou","m":"UCM","h":1,"t":28.95},{"c":"Hangzhou","m":"UCM","h":2,"t":30.2},{"c":"Hangzhou","m":"UCM","h":3,"t":31.25},{"c":"Hangzhou","m":"UCM","h":4,"t":31.6},{"c":"Hangzhou","m":"UCM","h":5,"t":31.85},{"c":"Hangzhou","m":"UCM","h":6,"t":32.2},{"c":"Hangzhou","m":"UCM","h":7,"t":32.0},{"c":"Hangzhou","m":"UCM","h":8,"t":31.75},{"c":"Hangzhou","m":"UCM","h":9,"t":31.15},{"c":"Hangzhou","m":"UCM","h":10,"t":30.4},{"c":"Hangzhou","m":"UCM","h":11,"t":29.35},{"c":"Hangzhou","m":"UCM","h":12,"t":28.3},{"c":"Hangzhou","m":"UCM","h":13,"t":27.5},{"c":"Hangzhou","m":"UCM","h":14,"t":26.65},{"c":"Hangzhou","m":"UCM","h":15,"t":26.1},{"c":"Hangzhou","m":"UCM","h":16,"t":25.65},{"c":"Hangzhou","m":"UCM","h":17,"t":25.25},{"c":"Hangzhou","m":"UCM","h":18,"t":24.95},{"c":"Hangzhou","m":"UCM","h":19,"t":24.6},{"c":"Hangzhou","m":"UCM","h":20,"t":24.35},{"c":"Hangzhou","m":"UCM","h":21,"t":24.1},{"c":"Hangzhou","m":"UCM","h":22,"t":24.2},{"c":"Hangzhou","m":"UCM","h":23,"t":25.3},
{"c":"Hangzhou","m":"BEP","h":0,"t":26.4},{"c":"Hangzhou","m":"BEP","h":1,"t":28.2},{"c":"Hangzhou","m":"BEP","h":2,"t":29.7},{"c":"Hangzhou","m":"BEP","h":3,"t":30.95},{"c":"Hangzhou","m":"BEP","h":4,"t":31.6},{"c":"Hangzhou","m":"BEP","h":5,"t":31.75},{"c":"Hangzhou","m":"BEP","h":6,"t":31.9},{"c":"Hangzhou","m":"BEP","h":7,"t":31.6},{"c":"Hangzhou","m":"BEP","h":8,"t":31.25},{"c":"Hangzhou","m":"BEP","h":9,"t":30.9},{"c":"Hangzhou","m":"BEP","h":10,"t":30.0},{"c":"Hangzhou","m":"BEP","h":11,"t":28.85},{"c":"Hangzhou","m":"BEP","h":12,"t":27.25},{"c":"Hangzhou","m":"BEP","h":13,"t":26.3},{"c":"Hangzhou","m":"BEP","h":14,"t":25.5},{"c":"Hangzhou","m":"BEP","h":15,"t":24.95},{"c":"Hangzhou","m":"BEP","h":16,"t":24.45},{"c":"Hangzhou","m":"BEP","h":17,"t":24.05},{"c":"Hangzhou","m":"BEP","h":18,"t":23.65},{"c":"Hangzhou","m":"BEP","h":19,"t":23.35},{"c":"Hangzhou","m":"BEP","h":20,"t":23.1},{"c":"Hangzhou","m":"BEP","h":21,"t":22.95},{"c":"Hangzhou","m":"BEP","h":22,"t":22.95},{"c":"Hangzhou","m":"BEP","h":23,"t":24.5},
{"c":"Hangzhou","m":"BEM","h":0,"t":27.0},{"c":"Hangzhou","m":"BEM","h":1,"t":28.95},{"c":"Hangzhou","m":"BEM","h":2,"t":30.2},{"c":"Hangzhou","m":"BEM","h":3,"t":31.15},{"c":"Hangzhou","m":"BEM","h":4,"t":31.9},{"c":"Hangzhou","m":"BEM","h":5,"t":32.25},{"c":"Hangzhou","m":"BEM","h":6,"t":32.5},{"c":"Hangzhou","m":"BEM","h":7,"t":32.6},{"c":"Hangzhou","m":"BEM","h":8,"t":32.4},{"c":"Hangzhou","m":"BEM","h":9,"t":31.85},{"c":"Hangzhou","m":"BEM","h":10,"t":31.05},{"c":"Hangzhou","m":"BEM","h":11,"t":30.1},{"c":"Hangzhou","m":"BEM","h":12,"t":28.75},{"c":"Hangzhou","m":"BEM","h":13,"t":27.8},{"c":"Hangzhou","m":"BEM","h":14,"t":27.15},{"c":"Hangzhou","m":"BEM","h":15,"t":26.55},{"c":"Hangzhou","m":"BEM","h":16,"t":26.1},{"c":"Hangzhou","m":"BEM","h":17,"t":25.7},{"c":"Hangzhou","m":"BEM","h":18,"t":25.35},{"c":"Hangzhou","m":"BEM","h":19,"t":25.15},{"c":"Hangzhou","m":"BEM","h":20,"t":25.0},{"c":"Hangzhou","m":"BEM","h":21,"t":25.0},{"c":"Hangzhou","m":"BEM","h":22,"t":25.05},{"c":"Hangzhou","m":"BEM","h":23,"t":25.8},
{"c":"Hefei","m":"OBS","h":0,"t":28.4},{"c":"Hefei","m":"OBS","h":1,"t":29.15},{"c":"Hefei","m":"OBS","h":2,"t":29.85},{"c":"Hefei","m":"OBS","h":3,"t":30.5},{"c":"Hefei","m":"OBS","h":4,"t":30.7},{"c":"Hefei","m":"OBS","h":5,"t":30.7},{"c":"Hefei","m":"OBS","h":6,"t":30.7},{"c":"Hefei","m":"OBS","h":7,"t":30.55},{"c":"Hefei","m":"OBS","h":8,"t":30.5},{"c":"Hefei","m":"OBS","h":9,"t":29.85},{"c":"Hefei","m":"OBS","h":10,"t":29.15},{"c":"Hefei","m":"OBS","h":11,"t":28.85},{"c":"Hefei","m":"OBS","h":12,"t":28.4},{"c":"Hefei","m":"OBS","h":13,"t":28.05},{"c":"Hefei","m":"OBS","h":14,"t":27.95},{"c":"Hefei","m":"OBS","h":15,"t":27.8},{"c":"Hefei","m":"OBS","h":16,"t":27.55},{"c":"Hefei","m":"OBS","h":17,"t":27.3},{"c":"Hefei","m":"OBS","h":18,"t":27.15},{"c":"Hefei","m":"OBS","h":19,"t":26.95},{"c":"Hefei","m":"OBS","h":20,"t":26.85},{"c":"Hefei","m":"OBS","h":21,"t":26.6},{"c":"Hefei","m":"OBS","h":22,"t":26.75},{"c":"Hefei","m":"OBS","h":23,"t":27.1},
{"c":"Hefei","m":"SLAB","h":0,"t":28.1},{"c":"Hefei","m":"SLAB","h":1,"t":29.6},{"c":"Hefei","m":"SLAB","h":2,"t":30.95},{"c":"Hefei","m":"SLAB","h":3,"t":31.9},{"c":"Hefei","m":"SLAB","h":4,"t":32.75},{"c":"Hefei","m":"SLAB","h":5,"t":33.3},{"c":"Hefei","m":"SLAB","h":6,"t":33.8},{"c":"Hefei","m":"SLAB","h":7,"t":33.8},{"c":"Hefei","m":"SLAB","h":8,"t":33.95},{"c":"Hefei","m":"SLAB","h":9,"t":33.5},{"c":"Hefei","m":"SLAB","h":10,"t":32.7},{"c":"Hefei","m":"SLAB","h":11,"t":31.6},{"c":"Hefei","m":"SLAB","h":12,"t":30.65},{"c":"Hefei","m":"SLAB","h":13,"t":29.7},{"c":"Hefei","m":"SLAB","h":14,"t":28.95},{"c":"Hefei","m":"SLAB","h":15,"t":28.2},{"c":"Hefei","m":"SLAB","h":16,"t":27.7},{"c":"Hefei","m":"SLAB","h":17,"t":27.25},{"c":"Hefei","m":"SLAB","h":18,"t":26.85},{"c":"Hefei","m":"SLAB","h":19,"t":26.5},{"c":"Hefei","m":"SLAB","h":20,"t":26.25},{"c":"Hefei","m":"SLAB","h":21,"t":26.0},{"c":"Hefei","m":"SLAB","h":22,"t":25.95},{"c":"Hefei","m":"SLAB","h":23,"t":26.75},
{"c":"Hefei","m":"UCM","h":0,"t":26.7},{"c":"Hefei","m":"UCM","h":1,"t":28.65},{"c":"Hefei","m":"UCM","h":2,"t":29.8},{"c":"Hefei","m":"UCM","h":3,"t":31.05},{"c":"Hefei","m":"UCM","h":4,"t":31.75},{"c":"Hefei","m":"UCM","h":5,"t":32.25},{"c":"Hefei","m":"UCM","h":6,"t":32.75},{"c":"Hefei","m":"UCM","h":7,"t":32.9},{"c":"Hefei","m":"UCM","h":8,"t":32.7},{"c":"Hefei","m":"UCM","h":9,"t":32.25},{"c":"Hefei","m":"UCM","h":10,"t":31.6},{"c":"Hefei","m":"UCM","h":11,"t":30.65},{"c":"Hefei","m":"UCM","h":12,"t":29.8},{"c":"Hefei","m":"UCM","h":13,"t":29.05},{"c":"Hefei","m":"UCM","h":14,"t":28.4},{"c":"Hefei","m":"UCM","h":15,"t":27.55},{"c":"Hefei","m":"UCM","h":16,"t":26.85},{"c":"Hefei","m":"UCM","h":17,"t":26.2},{"c":"Hefei","m":"UCM","h":18,"t":25.7},{"c":"Hefei","m":"UCM","h":19,"t":25.25},{"c":"Hefei","m":"UCM","h":20,"t":24.9},{"c":"Hefei","m":"UCM","h":21,"t":24.6},{"c":"Hefei","m":"UCM","h":22,"t":24.5},{"c":"Hefei","m":"UCM","h":23,"t":25.25},
{"c":"Hefei","m":"BEP","h":0,"t":26.25},{"c":"Hefei","m":"BEP","h":1,"t":28.1},{"c":"Hefei","m":"BEP","h":2,"t":29.35},{"c":"Hefei","m":"BEP","h":3,"t":30.35},{"c":"Hefei","m":"BEP","h":4,"t":31.15},{"c":"Hefei","m":"BEP","h":5,"t":31.8},{"c":"Hefei","m":"BEP","h":6,"t":32.35},{"c":"Hefei","m":"BEP","h":7,"t":32.35},{"c":"Hefei","m":"BEP","h":8,"t":32.05},{"c":"Hefei","m":"BEP","h":9,"t":31.95},{"c":"Hefei","m":"BEP","h":10,"t":31.25},{"c":"Hefei","m":"BEP","h":11,"t":30.0},{"c":"Hefei","m":"BEP","h":12,"t":27.9},{"c":"Hefei","m":"BEP","h":13,"t":26.55},{"c":"Hefei","m":"BEP","h":14,"t":25.95},{"c":"Hefei","m":"BEP","h":15,"t":25.4},{"c":"Hefei","m":"BEP","h":16,"t":24.85},{"c":"Hefei","m":"BEP","h":17,"t":24.4},{"c":"Hefei","m":"BEP","h":18,"t":24.05},{"c":"Hefei","m":"BEP","h":19,"t":23.8},{"c":"Hefei","m":"BEP","h":20,"t":23.5},{"c":"Hefei","m":"BEP","h":21,"t":23.35},{"c":"Hefei","m":"BEP","h":22,"t":23.25},{"c":"Hefei","m":"BEP","h":23,"t":24.15},
{"c":"Hefei","m":"BEM","h":0,"t":28.0},{"c":"Hefei","m":"BEM","h":1,"t":29.35},{"c":"Hefei","m":"BEM","h":2,"t":30.65},{"c":"Hefei","m":"BEM","h":3,"t":31.6},{"c":"Hefei","m":"BEM","h":4,"t":32.25},{"c":"Hefei","m":"BEM","h":5,"t":32.65},{"c":"Hefei","m":"BEM","h":6,"t":32.85},{"c":"Hefei","m":"BEM","h":7,"t":32.8},{"c":"Hefei","m":"BEM","h":8,"t":32.8},{"c":"Hefei","m":"BEM","h":9,"t":32.75},{"c":"Hefei","m":"BEM","h":10,"t":32.25},{"c":"Hefei","m":"BEM","h":11,"t":31.5},{"c":"Hefei","m":"BEM","h":12,"t":30.7},{"c":"Hefei","m":"BEM","h":13,"t":29.9},{"c":"Hefei","m":"BEM","h":14,"t":29.1},{"c":"Hefei","m":"BEM","h":15,"t":28.4},{"c":"Hefei","m":"BEM","h":16,"t":27.95},{"c":"Hefei","m":"BEM","h":17,"t":27.45},{"c":"Hefei","m":"BEM","h":18,"t":27.1},{"c":"Hefei","m":"BEM","h":19,"t":26.75},{"c":"Hefei","m":"BEM","h":20,"t":26.5},{"c":"Hefei","m":"BEM","h":21,"t":26.3},{"c":"Hefei","m":"BEM","h":22,"t":26.15},{"c":"Hefei","m":"BEM","h":23,"t":26.75},
{"c":"Shanghai","m":"OBS","h":0,"t":28.2},{"c":"Shanghai","m":"OBS","h":1,"t":29.2},{"c":"Shanghai","m":"OBS","h":2,"t":30.0},{"c":"Shanghai","m":"OBS","h":3,"t":30.8},{"c":"Shanghai","m":"OBS","h":4,"t":31.25},{"c":"Shanghai","m":"OBS","h":5,"t":31.15},{"c":"Shanghai","m":"OBS","h":6,"t":31.75},{"c":"Shanghai","m":"OBS","h":7,"t":31.6},{"c":"Shanghai","m":"OBS","h":8,"t":31.05},{"c":"Shanghai","m":"OBS","h":9,"t":30.3},{"c":"Shanghai","m":"OBS","h":10,"t":29.65},{"c":"Shanghai","m":"OBS","h":11,"t":28.65},{"c":"Shanghai","m":"OBS","h":12,"t":28.25},{"c":"Shanghai","m":"OBS","h":13,"t":27.95},{"c":"Shanghai","m":"OBS","h":14,"t":27.7},{"c":"Shanghai","m":"OBS","h":15,"t":27.65},{"c":"Shanghai","m":"OBS","h":16,"t":27.25},{"c":"Shanghai","m":"OBS","h":17,"t":27.1},{"c":"Shanghai","m":"OBS","h":18,"t":27.0},{"c":"Shanghai","m":"OBS","h":19,"t":26.75},{"c":"Shanghai","m":"OBS","h":20,"t":26.7},{"c":"Shanghai","m":"OBS","h":21,"t":26.5},{"c":"Shanghai","m":"OBS","h":22,"t":26.5},{"c":"Shanghai","m":"OBS","h":23,"t":27.25},
{"c":"Shanghai","m":"SLAB","h":0,"t":26.5},{"c":"Shanghai","m":"SLAB","h":1,"t":28.4},{"c":"Shanghai","m":"SLAB","h":2,"t":29.8},{"c":"Shanghai","m":"SLAB","h":3,"t":30.7},{"c":"Shanghai","m":"SLAB","h":4,"t":31.35},{"c":"Shanghai","m":"SLAB","h":5,"t":31.75},{"c":"Shanghai","m":"SLAB","h":6,"t":32.0},{"c":"Shanghai","m":"SLAB","h":7,"t":31.95},{"c":"Shanghai","m":"SLAB","h":8,"t":31.15},{"c":"Shanghai","m":"SLAB","h":9,"t":30.3},{"c":"Shanghai","m":"SLAB","h":10,"t":28.95},{"c":"Shanghai","m":"SLAB","h":11,"t":27.7},{"c":"Shanghai","m":"SLAB","h":12,"t":26.95},{"c":"Shanghai","m":"SLAB","h":13,"t":26.5},{"c":"Shanghai","m":"SLAB","h":14,"t":26.1},{"c":"Shanghai","m":"SLAB","h":15,"t":25.65},{"c":"Shanghai","m":"SLAB","h":16,"t":25.35},{"c":"Shanghai","m":"SLAB","h":17,"t":25.15},{"c":"Shanghai","m":"SLAB","h":18,"t":24.95},{"c":"Shanghai","m":"SLAB","h":19,"t":24.75},{"c":"Shanghai","m":"SLAB","h":20,"t":24.65},{"c":"Shanghai","m":"SLAB","h":21,"t":24.6},{"c":"Shanghai","m":"SLAB","h":22,"t":24.75},{"c":"Shanghai","m":"SLAB","h":23,"t":25.55},
{"c":"Shanghai","m":"UCM","h":0,"t":26.7},{"c":"Shanghai","m":"UCM","h":1,"t":28.4},{"c":"Shanghai","m":"UCM","h":2,"t":29.7},{"c":"Shanghai","m":"UCM","h":3,"t":30.55},{"c":"Shanghai","m":"UCM","h":4,"t":31.15},{"c":"Shanghai","m":"UCM","h":5,"t":31.4},{"c":"Shanghai","m":"UCM","h":6,"t":31.25},{"c":"Shanghai","m":"UCM","h":7,"t":30.9},{"c":"Shanghai","m":"UCM","h":8,"t":30.1},{"c":"Shanghai","m":"UCM","h":9,"t":29.25},{"c":"Shanghai","m":"UCM","h":10,"t":28.2},{"c":"Shanghai","m":"UCM","h":11,"t":27.05},{"c":"Shanghai","m":"UCM","h":12,"t":26.3},{"c":"Shanghai","m":"UCM","h":13,"t":25.9},{"c":"Shanghai","m":"UCM","h":14,"t":25.45},{"c":"Shanghai","m":"UCM","h":15,"t":25.05},{"c":"Shanghai","m":"UCM","h":16,"t":24.75},{"c":"Shanghai","m":"UCM","h":17,"t":24.45},{"c":"Shanghai","m":"UCM","h":18,"t":24.2},{"c":"Shanghai","m":"UCM","h":19,"t":24.0},{"c":"Shanghai","m":"UCM","h":20,"t":23.8},{"c":"Shanghai","m":"UCM","h":21,"t":23.65},{"c":"Shanghai","m":"UCM","h":22,"t":24.0},{"c":"Shanghai","m":"UCM","h":23,"t":25.05},
{"c":"Shanghai","m":"BEP","h":0,"t":26.25},{"c":"Shanghai","m":"BEP","h":1,"t":28.2},{"c":"Shanghai","m":"BEP","h":2,"t":29.6},{"c":"Shanghai","m":"BEP","h":3,"t":30.35},{"c":"Shanghai","m":"BEP","h":4,"t":30.8},{"c":"Shanghai","m":"BEP","h":5,"t":30.95},{"c":"Shanghai","m":"BEP","h":6,"t":30.75},{"c":"Shanghai","m":"BEP","h":7,"t":30.1},{"c":"Shanghai","m":"BEP","h":8,"t":29.6},{"c":"Shanghai","m":"BEP","h":9,"t":28.85},{"c":"Shanghai","m":"BEP","h":10,"t":27.45},{"c":"Shanghai","m":"BEP","h":11,"t":25.95},{"c":"Shanghai","m":"BEP","h":12,"t":25.05},{"c":"Shanghai","m":"BEP","h":13,"t":24.5},{"c":"Shanghai","m":"BEP","h":14,"t":24.2},{"c":"Shanghai","m":"BEP","h":15,"t":23.9},{"c":"Shanghai","m":"BEP","h":16,"t":23.65},{"c":"Shanghai","m":"BEP","h":17,"t":23.45},{"c":"Shanghai","m":"BEP","h":18,"t":23.25},{"c":"Shanghai","m":"BEP","h":19,"t":23.1},{"c":"Shanghai","m":"BEP","h":20,"t":22.95},{"c":"Shanghai","m":"BEP","h":21,"t":22.9},{"c":"Shanghai","m":"BEP","h":22,"t":23.05},{"c":"Shanghai","m":"BEP","h":23,"t":24.15},
{"c":"Shanghai","m":"BEM","h":0,"t":26.75},{"c":"Shanghai","m":"BEM","h":1,"t":28.5},{"c":"Shanghai","m":"BEM","h":2,"t":29.8},{"c":"Shanghai","m":"BEM","h":3,"t":30.65},{"c":"Shanghai","m":"BEM","h":4,"t":31.25},{"c":"Shanghai","m":"BEM","h":5,"t":31.6},{"c":"Shanghai","m":"BEM","h":6,"t":31.95},{"c":"Shanghai","m":"BEM","h":7,"t":31.6},{"c":"Shanghai","m":"BEM","h":8,"t":30.75},{"c":"Shanghai","m":"BEM","h":9,"t":30.15},{"c":"Shanghai","m":"BEM","h":10,"t":29.05},{"c":"Shanghai","m":"BEM","h":11,"t":27.8},{"c":"Shanghai","m":"BEM","h":12,"t":27.1},{"c":"Shanghai","m":"BEM","h":13,"t":26.7},{"c":"Shanghai","m":"BEM","h":14,"t":26.3},{"c":"Shanghai","m":"BEM","h":15,"t":26.0},{"c":"Shanghai","m":"BEM","h":16,"t":25.55},{"c":"Shanghai","m":"BEM","h":17,"t":25.2},{"c":"Shanghai","m":"BEM","h":18,"t":24.95},{"c":"Shanghai","m":"BEM","h":19,"t":24.85},{"c":"Shanghai","m":"BEM","h":20,"t":24.85},{"c":"Shanghai","m":"BEM","h":21,"t":24.75},{"c":"Shanghai","m":"BEM","h":22,"t":24.85},{"c":"Shanghai","m":"BEM","h":23,"t":25.5}
]
},
"concat":[
 {"title":{"text":"a)","anchor":"start","frame":"bounds","fontSize":28,"fontWeight":"normal","font":"Liberation Sans","color":"#000","offset":-29},
  "width":236,"height":237,"data":{"name":"a"},"transform":[{"filter":"datum.c === 'Nanjing'"}],
  "layer":[
   {"mark":{"type":"line","strokeWidth":2},
    "encoding":{
     "x":{"field":"h","type":"quantitative","scale":{"domain":[0,24],"nice":false},"axis":{"orient":"bottom","values":[0,1,2,3,4,5,6,7,8,9,10,11,12,13,14,15,16,17,18,19,20,21,22,23,24],"labels":false,"title":null,"tickSize":{"condition":{"test":"datum.value % 4 === 0","value":4},"value":-3}}},
     "y":{"field":"t","type":"quantitative","scale":{"domain":[-3,12],"nice":false,"zero":false},"axis":{"orient":"left","values":[-3,-2.25,-1.5,-0.75,0,0.75,1.5,2.25,3,3.75,4.5,5.25,6,6.75,7.5,8.25,9,9.75,10.5,11.25,12],"labelExpr":"datum.value % 3 === 0 ? datum.label : ''","tickSize":{"condition":{"test":"datum.value % 3 === 0","value":4},"value":-3},"title":"T2 (°C)"}},
     "color":{"field":"m","type":"nominal","scale":{"domain":["OBS","SLAB","UCM","BEP","BEM"],"range":["#000000","#ffff00","#0000ff","#00ff00","#ff0000"]},
       "legend":{"orient":"none","legendX":50,"legendY":-42,"direction":"horizontal","title":null,"symbolType":"stroke","symbolSize":600,"symbolStrokeWidth":2,"labelFontSize":15,"labelFont":"Liberation Sans","labelColor":"#000","labelOffset":8,"columnPadding":15,"gridAlign":"all"}}
    }},
   {"transform":[{"filter":"datum.h === 0 && datum.m === 'OBS'"}],
    "mark":{"type":"text","align":"left","baseline":"middle","fontSize":16,"font":"Liberation Sans","color":"#000"},
    "encoding":{
     "x":{"datum":16.5,"type":"quantitative","axis":{"orient":"top","values":[0,1,2,3,4,5,6,7,8,9,10,11,12,13,14,15,16,17,18,19,20,21,22,23,24],"labels":false,"title":null,"tickSize":{"condition":{"test":"datum.value % 4 === 0","value":4},"value":-3}}},
     "y":{"datum":10.6,"type":"quantitative","axis":{"orient":"right","values":[-3,-2.25,-1.5,-0.75,0,0.75,1.5,2.25,3,3.75,4.5,5.25,6,6.75,7.5,8.25,9,9.75,10.5,11.25,12],"labels":false,"title":null,"tickSize":{"condition":{"test":"datum.value % 3 === 0","value":4},"value":-3}}},
     "text":{"field":"c"}
    }}
  ],
  "resolve":{"axis":{"x":"independent","y":"independent"}}
 },
 {"width":236,"height":237,"data":{"name":"a"},"transform":[{"filter":"datum.c === 'Hangzhou'"}],
  "layer":[
   {"mark":{"type":"line","strokeWidth":2},
    "encoding":{
     "x":{"field":"h","type":"quantitative","scale":{"domain":[0,24],"nice":false},"axis":{"orient":"bottom","values":[0,1,2,3,4,5,6,7,8,9,10,11,12,13,14,15,16,17,18,19,20,21,22,23,24],"labels":false,"title":null,"tickSize":{"condition":{"test":"datum.value % 4 === 0","value":4},"value":-3}}},
     "y":{"field":"t","type":"quantitative","scale":{"domain":[-3,12],"nice":false,"zero":false},"axis":{"orient":"left","values":[-3,-2.25,-1.5,-0.75,0,0.75,1.5,2.25,3,3.75,4.5,5.25,6,6.75,7.5,8.25,9,9.75,10.5,11.25,12],"labelExpr":"datum.value % 3 === 0 ? datum.label : ''","tickSize":{"condition":{"test":"datum.value % 3 === 0","value":4},"value":-3},"title":"T2 (°C)"}},
     "color":{"field":"m","type":"nominal","scale":{"domain":["OBS","SLAB","UCM","BEP","BEM"],"range":["#000000","#ffff00","#0000ff","#00ff00","#ff0000"]},"legend":null}
    }},
   {"transform":[{"filter":"datum.h === 0 && datum.m === 'OBS'"}],
    "mark":{"type":"text","align":"left","baseline":"middle","fontSize":16,"font":"Liberation Sans","color":"#000"},
    "encoding":{
     "x":{"datum":16.5,"type":"quantitative","axis":{"orient":"top","values":[0,1,2,3,4,5,6,7,8,9,10,11,12,13,14,15,16,17,18,19,20,21,22,23,24],"labels":false,"title":null,"tickSize":{"condition":{"test":"datum.value % 4 === 0","value":4},"value":-3}}},
     "y":{"datum":10.6,"type":"quantitative","axis":{"orient":"right","values":[-3,-2.25,-1.5,-0.75,0,0.75,1.5,2.25,3,3.75,4.5,5.25,6,6.75,7.5,8.25,9,9.75,10.5,11.25,12],"labels":false,"title":null,"tickSize":{"condition":{"test":"datum.value % 3 === 0","value":4},"value":-3}}},
     "text":{"field":"c"}
    }}
  ],
  "resolve":{"axis":{"x":"independent","y":"independent"}}
 },
 {"title":{"text":"b)","anchor":"start","frame":"bounds","fontSize":28,"fontWeight":"normal","font":"Liberation Sans","color":"#000","offset":-29},
  "width":236,"height":237,"data":{"name":"b"},"transform":[{"filter":"datum.c === 'Nanjing'"}],
  "layer":[
   {"mark":{"type":"line","strokeWidth":2},
    "encoding":{
     "x":{"field":"h","type":"quantitative","scale":{"domain":[0,24],"nice":false},"axis":{"orient":"bottom","values":[0,1,2,3,4,5,6,7,8,9,10,11,12,13,14,15,16,17,18,19,20,21,22,23,24],"labels":false,"title":null,"tickSize":{"condition":{"test":"datum.value % 4 === 0","value":4},"value":-3}}},
     "y":{"field":"t","type":"quantitative","scale":{"domain":[20,35],"nice":false,"zero":false},"axis":{"orient":"left","values":[20,21.25,22.5,23.75,25,26.25,27.5,28.75,30,31.25,32.5,33.75,35],"labelExpr":"datum.value % 5 === 0 ? datum.label : ''","tickSize":{"condition":{"test":"datum.value % 5 === 0","value":4},"value":-3},"title":"T2 (°C)"}},
     "color":{"field":"m","type":"nominal","scale":{"domain":["OBS","SLAB","UCM","BEP","BEM"],"range":["#000000","#ffff00","#0000ff","#00ff00","#ff0000"]},
       "legend":{"orient":"none","legendX":50,"legendY":-42,"direction":"horizontal","title":null,"symbolType":"stroke","symbolSize":600,"symbolStrokeWidth":2,"labelFontSize":15,"labelFont":"Liberation Sans","labelColor":"#000","labelOffset":8,"columnPadding":15,"gridAlign":"all"}}
    }},
   {"transform":[{"filter":"datum.h === 0 && datum.m === 'OBS'"}],
    "mark":{"type":"text","align":"left","baseline":"middle","fontSize":16,"font":"Liberation Sans","color":"#000"},
    "encoding":{
     "x":{"datum":16.5,"type":"quantitative","axis":{"orient":"top","values":[0,1,2,3,4,5,6,7,8,9,10,11,12,13,14,15,16,17,18,19,20,21,22,23,24],"labels":false,"title":null,"tickSize":{"condition":{"test":"datum.value % 4 === 0","value":4},"value":-3}}},
     "y":{"datum":33.6,"type":"quantitative","axis":{"orient":"right","values":[20,21.25,22.5,23.75,25,26.25,27.5,28.75,30,31.25,32.5,33.75,35],"labels":false,"title":null,"tickSize":{"condition":{"test":"datum.value % 5 === 0","value":4},"value":-3}}},
     "text":{"field":"c"}
    }}
  ],
  "resolve":{"axis":{"x":"independent","y":"independent"}}
 },
 {"width":236,"height":237,"data":{"name":"b"},"transform":[{"filter":"datum.c === 'Hangzhou'"}],
  "layer":[
   {"mark":{"type":"line","strokeWidth":2},
    "encoding":{
     "x":{"field":"h","type":"quantitative","scale":{"domain":[0,24],"nice":false},"axis":{"orient":"bottom","values":[0,1,2,3,4,5,6,7,8,9,10,11,12,13,14,15,16,17,18,19,20,21,22,23,24],"labels":false,"title":null,"tickSize":{"condition":{"test":"datum.value % 4 === 0","value":4},"value":-3}}},
     "y":{"field":"t","type":"quantitative","scale":{"domain":[20,35],"nice":false,"zero":false},"axis":{"orient":"left","values":[20,21.25,22.5,23.75,25,26.25,27.5,28.75,30,31.25,32.5,33.75,35],"labelExpr":"datum.value % 5 === 0 ? datum.label : ''","tickSize":{"condition":{"test":"datum.value % 5 === 0","value":4},"value":-3},"title":"T2 (°C)"}},
     "color":{"field":"m","type":"nominal","scale":{"domain":["OBS","SLAB","UCM","BEP","BEM"],"range":["#000000","#ffff00","#0000ff","#00ff00","#ff0000"]},"legend":null}
    }},
   {"transform":[{"filter":"datum.h === 0 && datum.m === 'OBS'"}],
    "mark":{"type":"text","align":"left","baseline":"middle","fontSize":16,"font":"Liberation Sans","color":"#000"},
    "encoding":{
     "x":{"datum":16.5,"type":"quantitative","axis":{"orient":"top","values":[0,1,2,3,4,5,6,7,8,9,10,11,12,13,14,15,16,17,18,19,20,21,22,23,24],"labels":false,"title":null,"tickSize":{"condition":{"test":"datum.value % 4 === 0","value":4},"value":-3}}},
     "y":{"datum":33.6,"type":"quantitative","axis":{"orient":"right","values":[20,21.25,22.5,23.75,25,26.25,27.5,28.75,30,31.25,32.5,33.75,35],"labels":false,"title":null,"tickSize":{"condition":{"test":"datum.value % 5 === 0","value":4},"value":-3}}},
     "text":{"field":"c"}
    }}
  ],
  "resolve":{"axis":{"x":"independent","y":"independent"}}
 },
 {"width":236,"height":237,"data":{"name":"a"},"transform":[{"filter":"datum.c === 'Hefei'"}],
  "layer":[
   {"mark":{"type":"line","strokeWidth":2},
    "encoding":{
     "x":{"field":"h","type":"quantitative","scale":{"domain":[0,24],"nice":false},"axis":{"orient":"bottom","values":[0,1,2,3,4,5,6,7,8,9,10,11,12,13,14,15,16,17,18,19,20,21,22,23,24],"labelExpr":"datum.value % 4 === 0 ? datum.label : ''","tickSize":{"condition":{"test":"datum.value % 4 === 0","value":4},"value":-3},"title":"UTC(Hour)","titleX":273,"titleFontSize":20,"titlePadding":6}},
     "y":{"field":"t","type":"quantitative","scale":{"domain":[-3,12],"nice":false,"zero":false},"axis":{"orient":"left","values":[-3,-2.25,-1.5,-0.75,0,0.75,1.5,2.25,3,3.75,4.5,5.25,6,6.75,7.5,8.25,9,9.75,10.5,11.25,12],"labelExpr":"datum.value % 3 === 0 ? datum.label : ''","tickSize":{"condition":{"test":"datum.value % 3 === 0","value":4},"value":-3},"title":"T2 (°C)"}},
     "color":{"field":"m","type":"nominal","scale":{"domain":["OBS","SLAB","UCM","BEP","BEM"],"range":["#000000","#ffff00","#0000ff","#00ff00","#ff0000"]},"legend":null}
    }},
   {"transform":[{"filter":"datum.h === 0 && datum.m === 'OBS'"}],
    "mark":{"type":"text","align":"left","baseline":"middle","fontSize":16,"font":"Liberation Sans","color":"#000"},
    "encoding":{
     "x":{"datum":16.5,"type":"quantitative","axis":{"orient":"top","values":[0,1,2,3,4,5,6,7,8,9,10,11,12,13,14,15,16,17,18,19,20,21,22,23,24],"labels":false,"title":null,"tickSize":{"condition":{"test":"datum.value % 4 === 0","value":4},"value":-3}}},
     "y":{"datum":10.6,"type":"quantitative","axis":{"orient":"right","values":[-3,-2.25,-1.5,-0.75,0,0.75,1.5,2.25,3,3.75,4.5,5.25,6,6.75,7.5,8.25,9,9.75,10.5,11.25,12],"labels":false,"title":null,"tickSize":{"condition":{"test":"datum.value % 3 === 0","value":4},"value":-3}}},
     "text":{"field":"c"}
    }}
  ],
  "resolve":{"axis":{"x":"independent","y":"independent"}}
 },
 {"width":236,"height":237,"data":{"name":"a"},"transform":[{"filter":"datum.c === 'Shanghai'"}],
  "layer":[
   {"mark":{"type":"line","strokeWidth":2},
    "encoding":{
     "x":{"field":"h","type":"quantitative","scale":{"domain":[0,24],"nice":false},"axis":{"orient":"bottom","values":[0,1,2,3,4,5,6,7,8,9,10,11,12,13,14,15,16,17,18,19,20,21,22,23,24],"labelExpr":"datum.value % 4 === 0 ? datum.label : ''","tickSize":{"condition":{"test":"datum.value % 4 === 0","value":4},"value":-3},"title":null}},
     "y":{"field":"t","type":"quantitative","scale":{"domain":[-3,12],"nice":false,"zero":false},"axis":{"orient":"left","values":[-3,-2.25,-1.5,-0.75,0,0.75,1.5,2.25,3,3.75,4.5,5.25,6,6.75,7.5,8.25,9,9.75,10.5,11.25,12],"labelExpr":"datum.value % 3 === 0 ? datum.label : ''","tickSize":{"condition":{"test":"datum.value % 3 === 0","value":4},"value":-3},"title":"T2 (°C)"}},
     "color":{"field":"m","type":"nominal","scale":{"domain":["OBS","SLAB","UCM","BEP","BEM"],"range":["#000000","#ffff00","#0000ff","#00ff00","#ff0000"]},"legend":null}
    }},
   {"transform":[{"filter":"datum.h === 0 && datum.m === 'OBS'"}],
    "mark":{"type":"text","align":"left","baseline":"middle","fontSize":16,"font":"Liberation Sans","color":"#000"},
    "encoding":{
     "x":{"datum":16.5,"type":"quantitative","axis":{"orient":"top","values":[0,1,2,3,4,5,6,7,8,9,10,11,12,13,14,15,16,17,18,19,20,21,22,23,24],"labels":false,"title":null,"tickSize":{"condition":{"test":"datum.value % 4 === 0","value":4},"value":-3}}},
     "y":{"datum":10.6,"type":"quantitative","axis":{"orient":"right","values":[-3,-2.25,-1.5,-0.75,0,0.75,1.5,2.25,3,3.75,4.5,5.25,6,6.75,7.5,8.25,9,9.75,10.5,11.25,12],"labels":false,"title":null,"tickSize":{"condition":{"test":"datum.value % 3 === 0","value":4},"value":-3}}},
     "text":{"field":"c"}
    }}
  ],
  "resolve":{"axis":{"x":"independent","y":"independent"}}
 },
 {"width":236,"height":237,"data":{"name":"b"},"transform":[{"filter":"datum.c === 'Hefei'"}],
  "layer":[
   {"mark":{"type":"line","strokeWidth":2},
    "encoding":{
     "x":{"field":"h","type":"quantitative","scale":{"domain":[0,24],"nice":false},"axis":{"orient":"bottom","values":[0,1,2,3,4,5,6,7,8,9,10,11,12,13,14,15,16,17,18,19,20,21,22,23,24],"labelExpr":"datum.value % 4 === 0 ? datum.label : ''","tickSize":{"condition":{"test":"datum.value % 4 === 0","value":4},"value":-3},"title":"UTC(Hour)","titleX":274,"titleFontSize":20,"titlePadding":6}},
     "y":{"field":"t","type":"quantitative","scale":{"domain":[20,35],"nice":false,"zero":false},"axis":{"orient":"left","values":[20,21.25,22.5,23.75,25,26.25,27.5,28.75,30,31.25,32.5,33.75,35],"labelExpr":"datum.value % 5 === 0 ? datum.label : ''","tickSize":{"condition":{"test":"datum.value % 5 === 0","value":4},"value":-3},"title":"T2 (°C)"}},
     "color":{"field":"m","type":"nominal","scale":{"domain":["OBS","SLAB","UCM","BEP","BEM"],"range":["#000000","#ffff00","#0000ff","#00ff00","#ff0000"]},"legend":null}
    }},
   {"transform":[{"filter":"datum.h === 0 && datum.m === 'OBS'"}],
    "mark":{"type":"text","align":"left","baseline":"middle","fontSize":16,"font":"Liberation Sans","color":"#000"},
    "encoding":{
     "x":{"datum":16.5,"type":"quantitative","axis":{"orient":"top","values":[0,1,2,3,4,5,6,7,8,9,10,11,12,13,14,15,16,17,18,19,20,21,22,23,24],"labels":false,"title":null,"tickSize":{"condition":{"test":"datum.value % 4 === 0","value":4},"value":-3}}},
     "y":{"datum":33.6,"type":"quantitative","axis":{"orient":"right","values":[20,21.25,22.5,23.75,25,26.25,27.5,28.75,30,31.25,32.5,33.75,35],"labels":false,"title":null,"tickSize":{"condition":{"test":"datum.value % 5 === 0","value":4},"value":-3}}},
     "text":{"field":"c"}
    }}
  ],
  "resolve":{"axis":{"x":"independent","y":"independent"}}
 },
 {"width":236,"height":237,"data":{"name":"b"},"transform":[{"filter":"datum.c === 'Shanghai'"}],
  "layer":[
   {"mark":{"type":"line","strokeWidth":2},
    "encoding":{
     "x":{"field":"h","type":"quantitative","scale":{"domain":[0,24],"nice":false},"axis":{"orient":"bottom","values":[0,1,2,3,4,5,6,7,8,9,10,11,12,13,14,15,16,17,18,19,20,21,22,23,24],"labelExpr":"datum.value % 4 === 0 ? datum.label : ''","tickSize":{"condition":{"test":"datum.value % 4 === 0","value":4},"value":-3},"title":null}},
     "y":{"field":"t","type":"quantitative","scale":{"domain":[20,35],"nice":false,"zero":false},"axis":{"orient":"left","values":[20,21.25,22.5,23.75,25,26.25,27.5,28.75,30,31.25,32.5,33.75,35],"labelExpr":"datum.value % 5 === 0 ? datum.label : ''","tickSize":{"condition":{"test":"datum.value % 5 === 0","value":4},"value":-3},"title":"T2 (°C)"}},
     "color":{"field":"m","type":"nominal","scale":{"domain":["OBS","SLAB","UCM","BEP","BEM"],"range":["#000000","#ffff00","#0000ff","#00ff00","#ff0000"]},"legend":null}
    }},
   {"transform":[{"filter":"datum.h === 0 && datum.m === 'OBS'"}],
    "mark":{"type":"text","align":"left","baseline":"middle","fontSize":16,"font":"Liberation Sans","color":"#000"},
    "encoding":{
     "x":{"datum":16.5,"type":"quantitative","axis":{"orient":"top","values":[0,1,2,3,4,5,6,7,8,9,10,11,12,13,14,15,16,17,18,19,20,21,22,23,24],"labels":false,"title":null,"tickSize":{"condition":{"test":"datum.value % 4 === 0","value":4},"value":-3}}},
     "y":{"datum":33.6,"type":"quantitative","axis":{"orient":"right","values":[20,21.25,22.5,23.75,25,26.25,27.5,28.75,30,31.25,32.5,33.75,35],"labels":false,"title":null,"tickSize":{"condition":{"test":"datum.value % 5 === 0","value":4},"value":-3}}},
     "text":{"field":"c"}
    }}
  ],
  "resolve":{"axis":{"x":"independent","y":"independent"}}
 }
],
"columns":4,
"spacing":{"row":18,"column":73},
"bounds":"flush",
"resolve":{"scale":{"color":"independent"},"legend":{"color":"independent"}},
"config":{
 "view":{"stroke":"#000","strokeWidth":1.5},
 "font":"Liberation Sans",
 "axis":{"labelFont":"Liberation Sans","labelFontSize":14,"labelColor":"#000","labelFlush":false,"labelOverlap":false,"titleFont":"Liberation Sans","titleFontSize":18,"titleFontWeight":"normal","titleColor":"#000","titlePadding":12,"domain":false,"grid":false,"tickColor":"#000","tickWidth":1.2},
 "axisX":{"labelPadding":7},
 "axisY":{"labelPadding":12}
}
}
